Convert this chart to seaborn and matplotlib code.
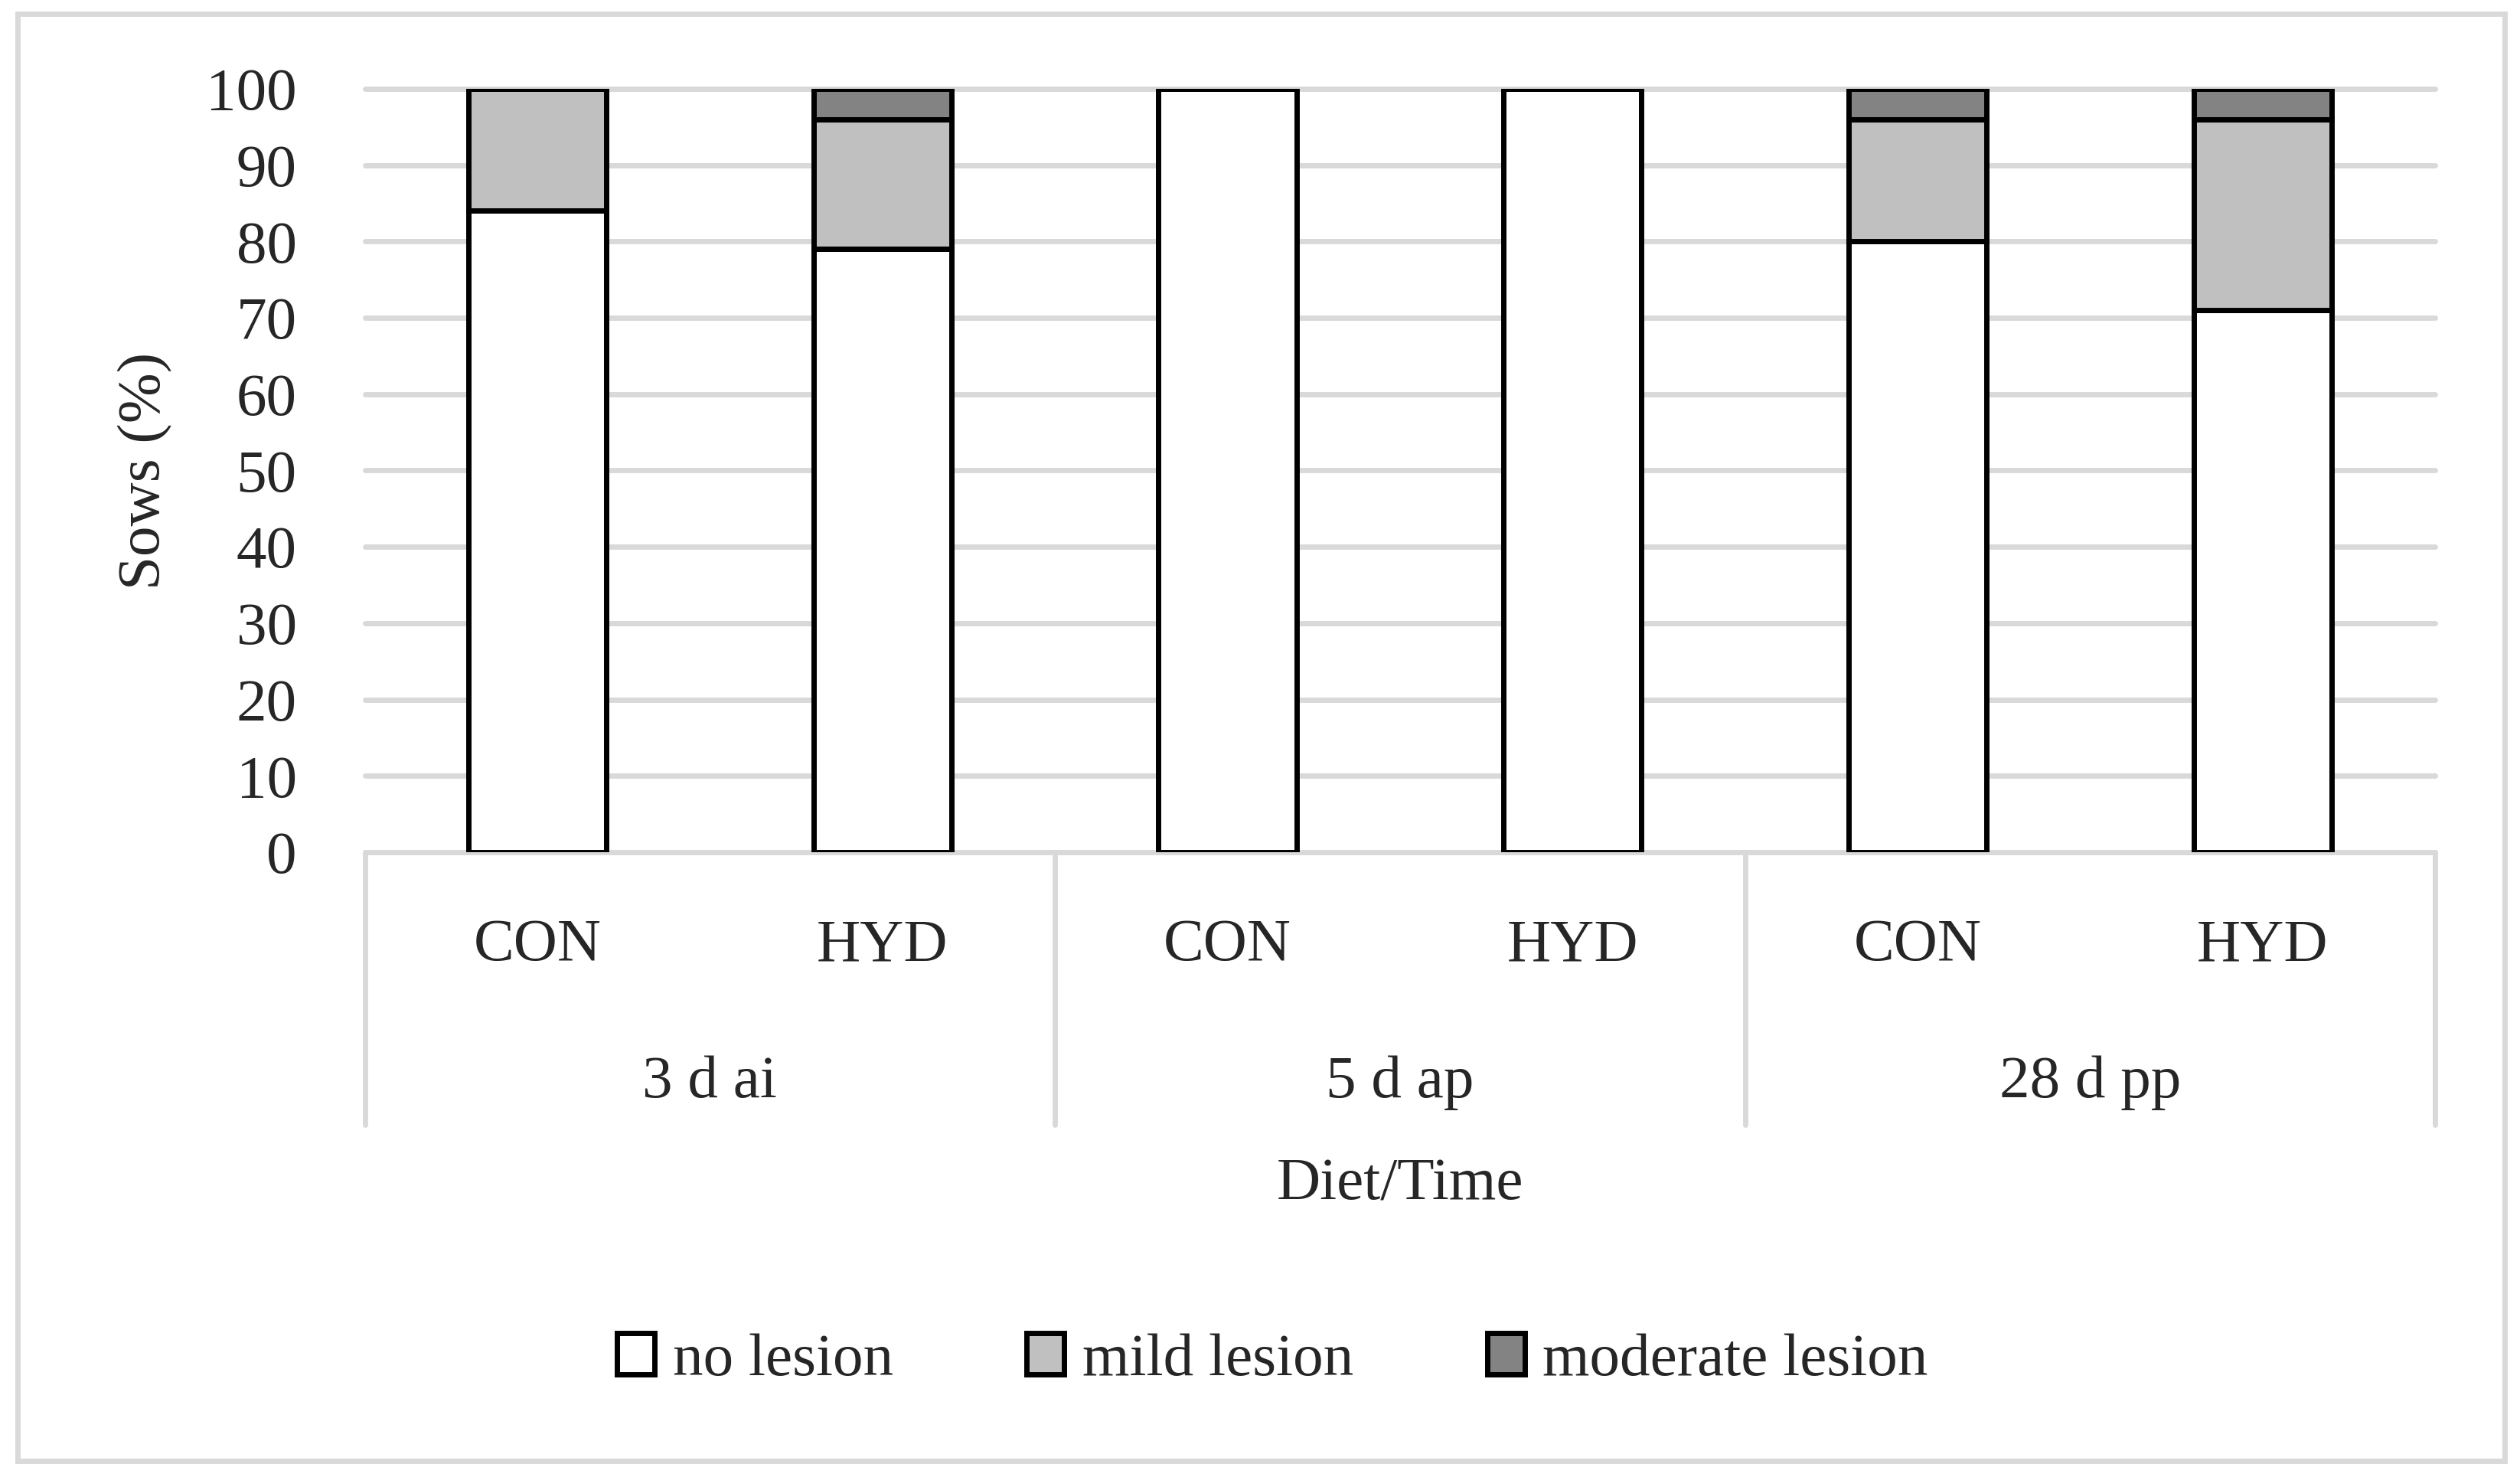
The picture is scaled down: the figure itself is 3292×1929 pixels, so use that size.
import matplotlib
matplotlib.use("Agg")
import matplotlib.pyplot as plt
import matplotlib.transforms as mtransforms
from matplotlib.patches import Patch, Rectangle
import seaborn as sns
import pandas as pd


# data
times = ["3 d ai", "5 d ap", "28 d pp"]
diets = ["CON", "HYD"]
no_lesion = [84, 79, 100, 100, 80, 71]
mild_lesion = [16, 17, 0, 0, 16, 25]
moderate_lesion = [0, 4, 0, 0, 4, 4]
severity = ["no lesion", "mild lesion", "moderate lesion"]
colors = ["#ffffff", "#c0c0c0", "#838383"]
y_ticks = list(range(0, 101, 10))

sns.set_style("white")
plt.rcParams["font.family"] = ["Liberation Serif", "DejaVu Serif"]
FS = 28.5
GRID = "#d9d9d9"

bars = [f"{t}|{d}" for t in times for d in diets]
df = pd.DataFrame({
    "bar": bars,
    "no lesion": no_lesion,
    "mild lesion": mild_lesion,
    "moderate lesion": moderate_lesion,
})

fig = plt.figure(figsize=(16.46, 9.645), dpi=200)
ax = fig.add_axes([0.1448, 0.4230, 0.8215, 0.5169])

bottom = pd.Series([0] * len(df))
for name, col in zip(severity, colors):
    sns.barplot(data=df, x="bar", y=name, order=bars, color=col,
                saturation=1, width=0.4, errorbar=None,
                edgecolor="black", linewidth=2.5,
                bottom=bottom.values, ax=ax, zorder=3)
    bottom = bottom + df[name]

ax.set_xlim(-0.5, 5.5)
ax.set_ylim(0, 100)
ax.set_yticks(y_ticks)
ax.yaxis.grid(True, color=GRID, lw=2.5)
for gl in ax.get_ygridlines():
    gl.set_clip_on(False)
ax.set_axisbelow(True)
sns.despine(ax=ax, left=True, bottom=True)

ax.set_xticks(range(len(bars)))
ax.set_xticklabels(diets * len(times))
ax.tick_params(axis="x", length=0, pad=44, labelsize=FS)
ax.tick_params(axis="y", length=0, pad=32, labelsize=FS)
for lab in ax.get_xticklabels():
    lab.set_va("center")

# group separators and time labels under the axis
trans = mtransforms.blended_transform_factory(ax.transData, ax.transAxes)
for xv in [-0.5, 1.5, 3.5, 5.5]:
    ax.plot([xv, xv], [0, -0.357], transform=trans, color=GRID,
            lw=2.5, clip_on=False)
for i, t in enumerate(times):
    ax.text(2 * i + 0.5, -0.302, t, transform=trans, ha="center",
            va="center", fontsize=FS)

ax.set_xlabel("Diet/Time", fontsize=FS)
ax.xaxis.label.set_va("center")
ax.xaxis.set_label_coords(0.5, -0.4355)
ax.set_ylabel("Sows (%)", fontsize=FS)
ax.yaxis.set_label_coords(-0.093, 0.5)

handles = [Patch(facecolor=c, edgecolor="black", lw=2.5) for c in colors]
fig.legend(handles, severity, loc="center", bbox_to_anchor=(0.505, 0.079),
           ncol=3, frameon=False, fontsize=FS, handlelength=0.62,
           handleheight=0.68, handletextpad=0.3, columnspacing=2.2)

# outer frame
fig.patches.append(Rectangle((0.007, 0.0109), 0.9869, 0.9798,
                             transform=fig.transFigure, fill=False,
                             edgecolor=GRID, lw=2.5))

fig.savefig("out.png", dpi=200)
